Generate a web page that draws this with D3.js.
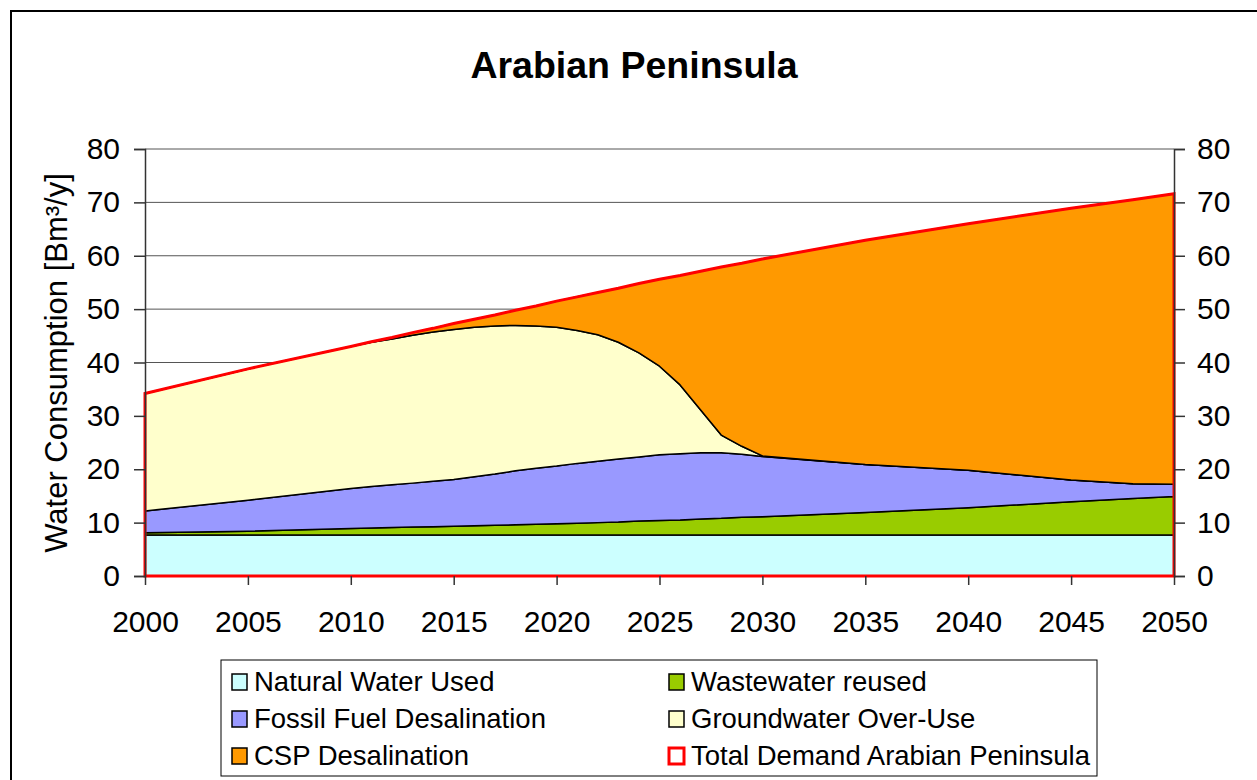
<!DOCTYPE html>
<html>
<head>
<meta charset="utf-8">
<script src="https://cdn.jsdelivr.net/npm/d3@7/dist/d3.min.js"></script>
<style>
  html, body { margin: 0; padding: 0; background: #fff; }
  svg { display: block; font-family: "Liberation Sans", Arial, sans-serif; }
</style>
</head>
<body>
<div id="chart"></div>
<script>
// Data (Bm³/y)
const years = [2000, 2005, 2010, 2011, 2012, 2013, 2014, 2015, 2016, 2017, 2018, 2019, 2020,
  2021, 2022, 2023, 2024, 2025, 2026, 2027, 2028, 2029, 2030, 2035, 2040, 2045, 2048, 2050];
const naturalWater = [7.7, 7.7, 7.7, 7.7, 7.7, 7.7, 7.7, 7.7, 7.7, 7.7, 7.7, 7.7, 7.7,
  7.7, 7.7, 7.7, 7.7, 7.7, 7.7, 7.7, 7.7, 7.7, 7.7, 7.7, 7.7, 7.7, 7.7, 7.7];
const wastewater = [0.4, 0.7, 1.2, 1.3, 1.4, 1.5, 1.55, 1.6, 1.7, 1.8, 1.9, 2.0, 2.1,
  2.2, 2.3, 2.4, 2.6, 2.7, 2.8, 3.0, 3.1, 3.3, 3.4, 4.2, 5.1, 6.2, 6.8, 7.2];
const fossilDesal = [4.1, 5.8, 7.5, 7.75, 8.0, 8.2, 8.5, 8.8, 9.2, 9.6, 10.1, 10.5, 10.8,
  11.2, 11.5, 11.8, 12.0, 12.3, 12.4, 12.4, 12.3, 11.8, 11.3, 9.0, 7.0, 4.1, 2.8, 2.3];
const groundwater = [22.0, 24.6, 26.6, 27.05, 27.3, 27.7, 27.95, 28.1, 28.0, 27.75, 27.25, 26.65, 26.0,
  24.9, 23.7, 21.9, 19.5, 16.6, 12.9, 8.0, 3.3, 1.5, 0.1, 0, 0, 0, 0, 0];
const cspDesal = [0, 0, 0, 0.1, 0.3, 0.5, 0.7, 1.1, 1.5, 2.05, 2.85, 3.75, 4.9,
  6.3, 7.9, 10.1, 13.0, 16.3, 20.5, 26.0, 31.5, 34.3, 36.9, 42.0, 46.2, 50.9, 53.2, 54.4];
const totalDemand = [34.2, 38.8, 43.0, 43.9, 44.7, 45.6, 46.4, 47.3, 48.1, 48.9, 49.8, 50.6, 51.5,
  52.3, 53.1, 53.9, 54.8, 55.6, 56.3, 57.1, 57.9, 58.6, 59.4, 62.9, 66.0, 68.9, 70.5, 71.6];

const seriesKeys = ["natural", "wastewater", "fossil", "groundwater", "csp"];
const seriesLabels = {
  natural: "Natural Water Used",
  wastewater: "Wastewater reused",
  fossil: "Fossil Fuel Desalination",
  groundwater: "Groundwater Over-Use",
  csp: "CSP Desalination"
};
const seriesColors = {
  natural: "#ccffff",
  wastewater: "#99cc00",
  fossil: "#9999ff",
  groundwater: "#ffffcc",
  csp: "#ff9900"
};
const xTicks = [2000, 2005, 2010, 2015, 2020, 2025, 2030, 2035, 2040, 2045, 2050];
const yTicks = [0, 10, 20, 30, 40, 50, 60, 70, 80];

const rows = years.map((year, i) => ({
  year,
  natural: naturalWater[i],
  wastewater: wastewater[i],
  fossil: fossilDesal[i],
  groundwater: groundwater[i],
  csp: cspDesal[i],
  total: totalDemand[i]
}));

const WIDTH = 1257;
const HEIGHT = 780;
const plot = { left: 145, right: 1174, top: 149, bottom: 576 };

const svg = d3.select("#chart")
  .append("svg")
  .attr("width", WIDTH)
  .attr("height", HEIGHT);

// outer chart frame (runs past the window on the right and bottom)
svg.append("rect")
  .attr("x", 11).attr("y", 11)
  .attr("width", 1400).attr("height", 1000)
  .attr("fill", "none")
  .attr("stroke", "#000")
  .attr("stroke-width", 2);

svg.append("text")
  .attr("x", 634)
  .attr("y", 78)
  .attr("text-anchor", "middle")
  .attr("font-size", 37.5)
  .attr("font-weight", "bold")
  .text("Arabian Peninsula");

const x = d3.scaleLinear().domain([2000, 2050]).range([plot.left, plot.right]);
const y = d3.scaleLinear().domain([0, 80]).range([plot.bottom, plot.top]);

// gridlines
svg.append("g")
  .selectAll("line")
  .data(yTicks.filter((t) => t > 0))
  .join("line")
  .attr("x1", plot.left).attr("x2", plot.right)
  .attr("y1", (d) => y(d)).attr("y2", (d) => y(d))
  .attr("stroke", "#555")
  .attr("stroke-width", 1);

// stacked areas
const stack = d3.stack().keys(seriesKeys);
const layers = stack(rows);

const area = d3.area()
  .x((d) => x(d.data.year))
  .y0((d) => y(d[0]))
  .y1((d) => y(d[1]));

svg.append("g")
  .selectAll("path")
  .data(layers)
  .join("path")
  .attr("d", area)
  .attr("fill", (d) => seriesColors[d.key])
  .attr("stroke", "#000")
  .attr("stroke-width", 1.5)
  .attr("stroke-linejoin", "round");

// total demand outline
const totalArea = d3.area()
  .x((d) => x(d.year))
  .y0(() => y(0))
  .y1((d) => y(d.total));

svg.append("path")
  .datum(rows)
  .attr("d", totalArea)
  .attr("fill", "none")
  .attr("stroke", "#ff0000")
  .attr("stroke-width", 3);

// axes
const axisFont = 30;

const leftAxis = svg.append("g")
  .attr("transform", `translate(${plot.left},0)`)
  .call(d3.axisLeft(y).tickValues(yTicks).tickSize(11).tickPadding(14));

const rightAxis = svg.append("g")
  .attr("transform", `translate(${plot.right},0)`)
  .call(d3.axisRight(y).tickValues(yTicks).tickSize(11).tickPadding(12));

const bottomAxis = svg.append("g")
  .attr("transform", `translate(0,${plot.bottom})`)
  .call(d3.axisBottom(x).tickValues(xTicks).tickFormat(d3.format("d")).tickSize(9).tickPadding(26));

[leftAxis, rightAxis, bottomAxis].forEach((g) => {
  g.selectAll("text")
    .attr("font-size", axisFont)
    .attr("font-family", "'Liberation Sans', Arial, sans-serif")
    .attr("fill", "#000");
  g.selectAll("line").attr("stroke", "#333").attr("stroke-width", 1.5);
  g.select(".domain").attr("stroke", "#333").attr("stroke-width", 1.5);
});
bottomAxis.select(".domain").remove();

svg.append("text")
  .attr("transform", "translate(67,363) rotate(-90)")
  .attr("text-anchor", "middle")
  .attr("font-size", 31)
  .text("Water Consumption [Bm³/y]");

// legend
const legend = svg.append("g");
legend.append("rect")
  .attr("x", 221).attr("y", 660)
  .attr("width", 876).attr("height", 116)
  .attr("fill", "#fff")
  .attr("stroke", "#000")
  .attr("stroke-width", 1);

const legendItems = [
  { label: seriesLabels.natural, fill: seriesColors.natural, stroke: "#000", col: 0, row: 0 },
  { label: seriesLabels.wastewater, fill: seriesColors.wastewater, stroke: "#000", col: 1, row: 0 },
  { label: seriesLabels.fossil, fill: seriesColors.fossil, stroke: "#000", col: 0, row: 1 },
  { label: seriesLabels.groundwater, fill: seriesColors.groundwater, stroke: "#000", col: 1, row: 1 },
  { label: seriesLabels.csp, fill: seriesColors.csp, stroke: "#000", col: 0, row: 2 },
  { label: "Total Demand Arabian Peninsula", fill: "#fff", stroke: "#ff0000", col: 1, row: 2 }
];

const legendEntry = legend.selectAll("g.entry")
  .data(legendItems)
  .join("g")
  .attr("class", "entry")
  .attr("transform", (d) => `translate(${d.col === 0 ? 231 : 668},${673 + d.row * 37})`);

legendEntry.append("rect")
  .attr("x", 1).attr("y", 1)
  .attr("width", 15).attr("height", 16)
  .attr("fill", (d) => d.fill)
  .attr("stroke", (d) => d.stroke)
  .attr("stroke-width", (d) => (d.stroke === "#000" ? 1.5 : 3));

legendEntry.append("text")
  .attr("x", 23)
  .attr("y", 18)
  .attr("font-size", 27.5)
  .text((d) => d.label);
</script>
</body>
</html>
